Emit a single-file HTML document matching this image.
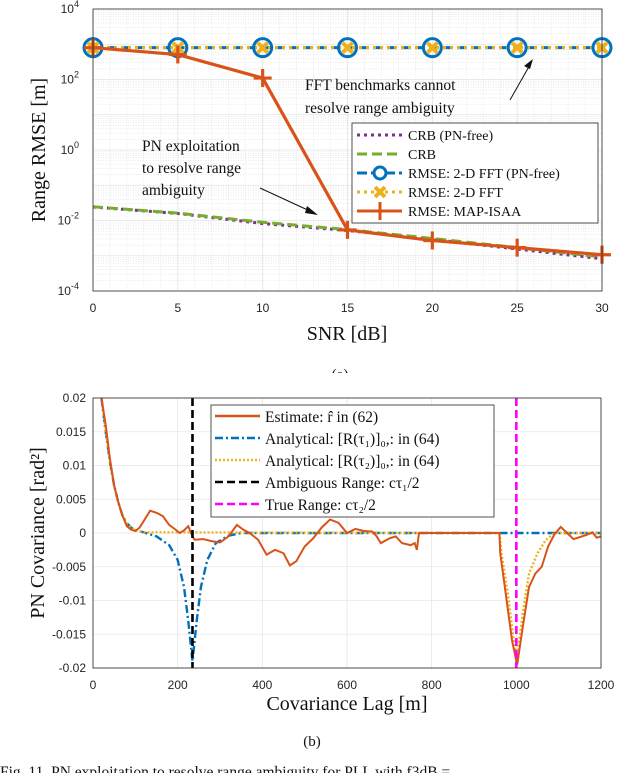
<!DOCTYPE html>
<html><head><meta charset="utf-8"><style>
body{margin:0;background:#fff;width:640px;height:773px;overflow:hidden}
svg{display:block}
.tk{font-family:"Liberation Sans",sans-serif;font-size:12px;fill:#262626}
.sr{font-family:"Liberation Serif",serif;fill:#111}
</style></head><body>
<svg id="fig" width="640" height="773" viewBox="0 0 640 773" xmlns="http://www.w3.org/2000/svg">
<g id="top"></g>
<g id="bot"></g>
</svg>
<script>
// ---- Chart (a) data ----
const snrValues = [0,5,10,15,20,25,30];
const crbPnFree = [0.0242,0.0158,0.0082,0.0052,0.0029,0.00155,0.00082];
const crbValues = [0.0245,0.0162,0.0089,0.0055,0.0031,0.0017,0.00092];
const fftPnFree = [800,800,800,800,800,800,800];
const fftValues = [800,800,800,800,800,800,800];
const mapIsaa = [800,510,110,0.0054,0.0027,0.0017,0.00107];
const yTickExp = [4,2,0,-2,-4];
const xTicksA = [0,5,10,15,20,25,30];
// ---- Chart (b) data ----
const estLag = [20,30,40,50,60,70,80,90,100,110,120,135,150,165,180,195,205,215,225,235,240,260,280,300,320,340,355,370,390,410,430,450,465,480,500,520,540,560,580,600,620,640,660,670,680,700,715,730,750,760,765,770,800,960,962,975,990,1002,1015,1030,1045,1060,1075,1090,1105,1120,1135,1150,1165,1180,1190,1200];
const estVal = [0.02,0.016,0.011,0.007,0.0045,0.0025,0.001,0.0005,0.0003,0.0008,0.0018,0.0033,0.003,0.0025,0.0012,0.0005,0.0,0.0004,0.001,-0.0005,-0.001,-0.0009,-0.0012,-0.0014,-0.0005,0.0012,0.0005,0.0,-0.001,-0.0032,-0.0025,-0.003,-0.0048,-0.0042,-0.002,-0.0008,0.0008,0.002,0.0015,0.0,0.0006,0.0003,0.0002,-0.0005,-0.0015,-0.0008,-0.0005,-0.0015,-0.0018,-0.0015,-0.0025,0,0,0,-0.003,-0.009,-0.016,-0.0195,-0.014,-0.008,-0.006,-0.005,-0.002,-0.0002,0.0009,0.0,-0.0009,-0.0006,-0.0003,0.0001,-0.0007,-0.0005];
const t1Lag = [20,30,40,50,60,70,80,90,100,120,150,180,200,215,225,235,245,255,270,290,320,350,1200];
const t1Val = [0.02,0.015,0.0105,0.007,0.0045,0.0025,0.0015,0.0008,0.0004,0.0001,-0.0005,-0.0018,-0.004,-0.008,-0.013,-0.019,-0.013,-0.008,-0.004,-0.0015,-0.0004,0,0];
const t2Lag = [20,30,40,50,60,70,80,90,100,120,960,965,980,1000,1015,1030,1050,1070,1090,1200];
const t2Val = [0.02,0.015,0.0105,0.007,0.0045,0.0025,0.0015,0.0008,0.0004,0.0001,0,-0.003,-0.009,-0.019,-0.012,-0.006,-0.003,-0.001,0,0];
const ambRange = 235, trueRange = 1000;
const yTicksB = [0.02,0.015,0.01,0.005,0,-0.005,-0.01,-0.015,-0.02];
const yTickLabB = ["0.02","0.015","0.01","0.005","0","-0.005","-0.01","-0.015","-0.02"];
const xTicksB = [0,200,400,600,800,1000,1200];

const NS="http://www.w3.org/2000/svg";
function mk(parent,tag,attrs,text){const e=document.createElementNS(NS,tag);for(const k in attrs)e.setAttribute(k,attrs[k]);if(text!==undefined)e.textContent=text;parent.appendChild(e);return e;}

// ---------- Chart A ----------
const A=document.getElementById('top');
const L=93,R=602,T=9,B=291;
const xA=v=>L+v/30*(R-L);
const yA=v=>T+(4-Math.log10(v))*(B-T)/8;
let e;
e=mk(A,'rect',{x:L,y:T,width:R-L,height:B-T,fill:'#fff'});


for(let k=-4;k<4;k++)for(let m=2;m<10;m++){const y=yA(m*Math.pow(10,k));mk(A,'line',{x1:L,x2:R,y1:y,y2:y,stroke:'#ddd','stroke-width':0.6,'stroke-dasharray':'1 1.5'});}
for(let s=1;s<30;s++){if(s%5===0)continue;const x=xA(s);mk(A,'line',{x1:x,x2:x,y1:T,y2:B,stroke:'#ddd','stroke-width':0.6,'stroke-dasharray':'1 1.5'});}
for(let k=-3;k<4;k++){const y=yA(Math.pow(10,k));mk(A,'line',{x1:L,x2:R,y1:y,y2:y,stroke:'#e3e3e3','stroke-width':0.8});}
xTicksA.forEach(v=>{const x=xA(v);mk(A,'line',{x1:x,x2:x,y1:T,y2:B,stroke:'#e3e3e3','stroke-width':0.8});
 const t=mk(A,'text',{x:x,y:312,'text-anchor':'middle',class:'tk'},String(v));
 
 });
yTickExp.forEach(p=>{const y=yA(Math.pow(10,p));const t=mk(A,'text',{x:79,y:y+4,'text-anchor':'end',class:'tk'},'10');
 const s=mk(t,'tspan',{dy:-6,'font-size':'9px'},String(p).replace('-','-'));
 
 });
function pts(xs,ys,fx,fy){return xs.map((x,i)=>fx(x)+','+fy(ys[i])).join(' ');}
e=mk(A,'polyline',{points:pts(snrValues,crbPnFree,xA,yA),fill:'none',stroke:'#7E2F8E','stroke-width':3,'stroke-dasharray':'3 4'});

e=mk(A,'polyline',{points:pts(snrValues,crbValues,xA,yA),fill:'none',stroke:'#77AC30','stroke-width':3,'stroke-dasharray':'10 5'});

e=mk(A,'polyline',{points:pts(snrValues,fftPnFree,xA,yA),fill:'none',stroke:'#0072BD','stroke-width':3,'stroke-dasharray':'10 4'});

e=mk(A,'polyline',{points:pts(snrValues,fftValues,xA,yA),fill:'none',stroke:'#EDB120','stroke-width':3,'stroke-dasharray':'3 4'});

snrValues.forEach((s,i)=>{const x=xA(s),y=yA(fftPnFree[i]);
 e=mk(A,'circle',{cx:x,cy:y,r:9,fill:'none',stroke:'#0072BD','stroke-width':3});
 
 const y2=yA(fftValues[i]);
 e=mk(A,'path',{d:`M${x-5},${y2-5}L${x+5},${y2+5}M${x+5},${y2-5}L${x-5},${y2+5}`,stroke:'#EDB120','stroke-width':4});
 });
e=mk(A,'polyline',{points:pts(snrValues,mapIsaa,xA,yA),fill:'none',stroke:'#D95319','stroke-width':3.2});

snrValues.forEach((s,i)=>{const x=xA(s),y=yA(mapIsaa[i]);
 e=mk(A,'path',{d:`M${x-9},${y}H${x+9}M${x},${y-9}V${y+9}`,stroke:'#D95319','stroke-width':3.2});
 });
e=mk(A,'rect',{x:L,y:T,width:R-L,height:B-T,fill:'none',stroke:'#262626','stroke-width':0.8});

// annotations
e=mk(A,'text',{x:305,y:90,class:'sr','font-size':'15.5px'},'FFT benchmarks cannot');
mk(A,'text',{x:305,y:113,class:'sr','font-size':'15.5px'},'resolve range ambiguity');
mk(A,'path',{d:'M510,100L531,63',stroke:'#111','stroke-width':1});
mk(A,'path',{d:'M533,59L524,66L530,69Z',fill:'#111'});
e=mk(A,'text',{x:142,y:151,class:'sr','font-size':'15.5px'},'PN exploitation');
mk(A,'text',{x:142,y:173,class:'sr','font-size':'15.5px'},'to resolve range');
mk(A,'text',{x:142,y:195,class:'sr','font-size':'15.5px'},'ambiguity');
mk(A,'path',{d:'M260,188L312,212',stroke:'#111','stroke-width':1});
mk(A,'path',{d:'M318,215L307,206L305,213Z',fill:'#111'});
// legend
const lg=mk(A,'g',{});

mk(lg,'rect',{x:352,y:123,width:246,height:100,fill:'#fff',stroke:'#262626','stroke-width':0.8});
const le=[['CRB (PN-free)','#7E2F8E','3 4',null],['CRB','#77AC30','10 5',null],['RMSE: 2-D FFT (PN-free)','#0072BD','10 4','o'],['RMSE: 2-D FFT','#EDB120','3 4','x'],['RMSE: MAP-ISAA','#D95319','','+']];
le.forEach((d,i)=>{const y=135+i*19;const g=mk(lg,'g',{});
 
 mk(g,'line',{x1:357,x2:402,y1:y,y2:y,stroke:d[1],'stroke-width':3,'stroke-dasharray':d[2]});
 if(d[3]==='o')mk(g,'circle',{cx:380,cy:y,r:6,fill:'#fff',stroke:d[1],'stroke-width':3});
 if(d[3]==='x')mk(g,'path',{d:`M375,${y-5}L385,${y+5}M385,${y-5}L375,${y+5}`,stroke:d[1],'stroke-width':4});
 if(d[3]==='+')mk(g,'path',{d:`M371,${y}H389M380,${y-9}V${y+9}`,stroke:d[1],'stroke-width':3});
 mk(g,'text',{x:408,y:y+5,class:'sr','font-size':'14px'},d[0]);});
e=mk(A,'text',{x:0,y:0,class:'sr','font-size':'20px','text-anchor':'middle',transform:'translate(45,150) rotate(-90)'},'Range RMSE [m]');

e=mk(A,'text',{x:347,y:340,class:'sr','font-size':'20px','text-anchor':'middle'},'SNR [dB]');

e=mk(A,'text',{x:340,y:379,class:'sr','font-size':'15px','text-anchor':'middle'},'(a)');

mk(A,'rect',{x:0,y:373,width:640,height:14,fill:'#fff'});

// ---------- Chart B ----------
const Bg=document.getElementById('bot');
const L2=93,R2=601,T2=398,B2=668;
const xB=v=>L2+v/1200*(R2-L2);
const yB=v=>(T2+B2)/2-v/0.02*(B2-T2)/2;
e=mk(Bg,'rect',{x:L2,y:T2,width:R2-L2,height:B2-T2,fill:'#fff'});

yTicksB.forEach((v,i)=>{const y=yB(v);mk(Bg,'line',{x1:L2,x2:R2,y1:y,y2:y,stroke:'#e6e6e6','stroke-width':0.8});
 const t=mk(Bg,'text',{x:86,y:y+4,'text-anchor':'end',class:'tk'},yTickLabB[i]);
 });
xTicksB.forEach(v=>{const x=xB(v);mk(Bg,'line',{x1:x,x2:x,y1:T2,y2:B2,stroke:'#e6e6e6','stroke-width':0.8});
 const t=mk(Bg,'text',{x:x,y:689,'text-anchor':'middle',class:'tk'},String(v));
 });
const clip=mk(Bg,'clipPath',{id:'cb'});mk(clip,'rect',{x:L2,y:T2,width:R2-L2,height:B2-T2});
const pg=mk(Bg,'g',{'clip-path':'url(#cb)'});
e=mk(pg,'polyline',{points:pts(t1Lag,t1Val,xB,yB),fill:'none',stroke:'#0072BD','stroke-width':2.4,'stroke-dasharray':'8 3 2 3'});

e=mk(pg,'polyline',{points:pts(t2Lag,t2Val,xB,yB),fill:'none',stroke:'#EDB120','stroke-width':2.4,'stroke-dasharray':'2 2'});

e=mk(pg,'polyline',{points:pts(estLag,estVal,xB,yB),fill:'none',stroke:'#D95319','stroke-width':2});

e=mk(pg,'line',{x1:xB(ambRange),x2:xB(ambRange),y1:T2,y2:B2,stroke:'#000','stroke-width':2.6,'stroke-dasharray':'8 4'});

e=mk(pg,'line',{x1:xB(trueRange),x2:xB(trueRange),y1:T2,y2:B2,stroke:'#FF00FF','stroke-width':2.6,'stroke-dasharray':'8 4'});

e=mk(Bg,'rect',{x:L2,y:T2,width:R2-L2,height:B2-T2,fill:'none',stroke:'#262626','stroke-width':0.8});

const lg2=mk(Bg,'g',{});

mk(lg2,'rect',{x:211,y:405,width:283,height:112,fill:'#fff',stroke:'#262626','stroke-width':0.8});
const le2=[['Estimate: r̂ in (62)','#D95319',''],['Analytical: [R(τ₁)]₀,: in (64)','#0072BD','8 3 2 3'],['Analytical: [R(τ₂)]₀,: in (64)','#EDB120','2 2'],['Ambiguous Range: cτ₁/2','#000','8 4'],['True Range: cτ₂/2','#FF00FF','8 4']];
le2.forEach((d,i)=>{const y=416+i*22;const g=mk(lg2,'g',{});
 
 mk(g,'line',{x1:215,x2:260,y1:y,y2:y,stroke:d[1],'stroke-width':2.4,'stroke-dasharray':d[2]});
 mk(g,'text',{x:265,y:y+6,class:'sr','font-size':'15.5px'},d[0]);});
e=mk(Bg,'text',{x:0,y:0,class:'sr','font-size':'20px','text-anchor':'middle',transform:'translate(44,533) rotate(-90)'},'PN Covariance [rad²]');

e=mk(Bg,'text',{x:347,y:710,class:'sr','font-size':'20px','text-anchor':'middle'},'Covariance Lag [m]');

e=mk(Bg,'text',{x:312,y:746,class:'sr','font-size':'15px','text-anchor':'middle'},'(b)');

e=mk(Bg,'text',{x:0,y:777,class:'sr','font-size':'15.5px'},'Fig. 11.  PN exploitation to resolve range ambiguity for PLL with  f3dB =');

</script>
</body></html>
